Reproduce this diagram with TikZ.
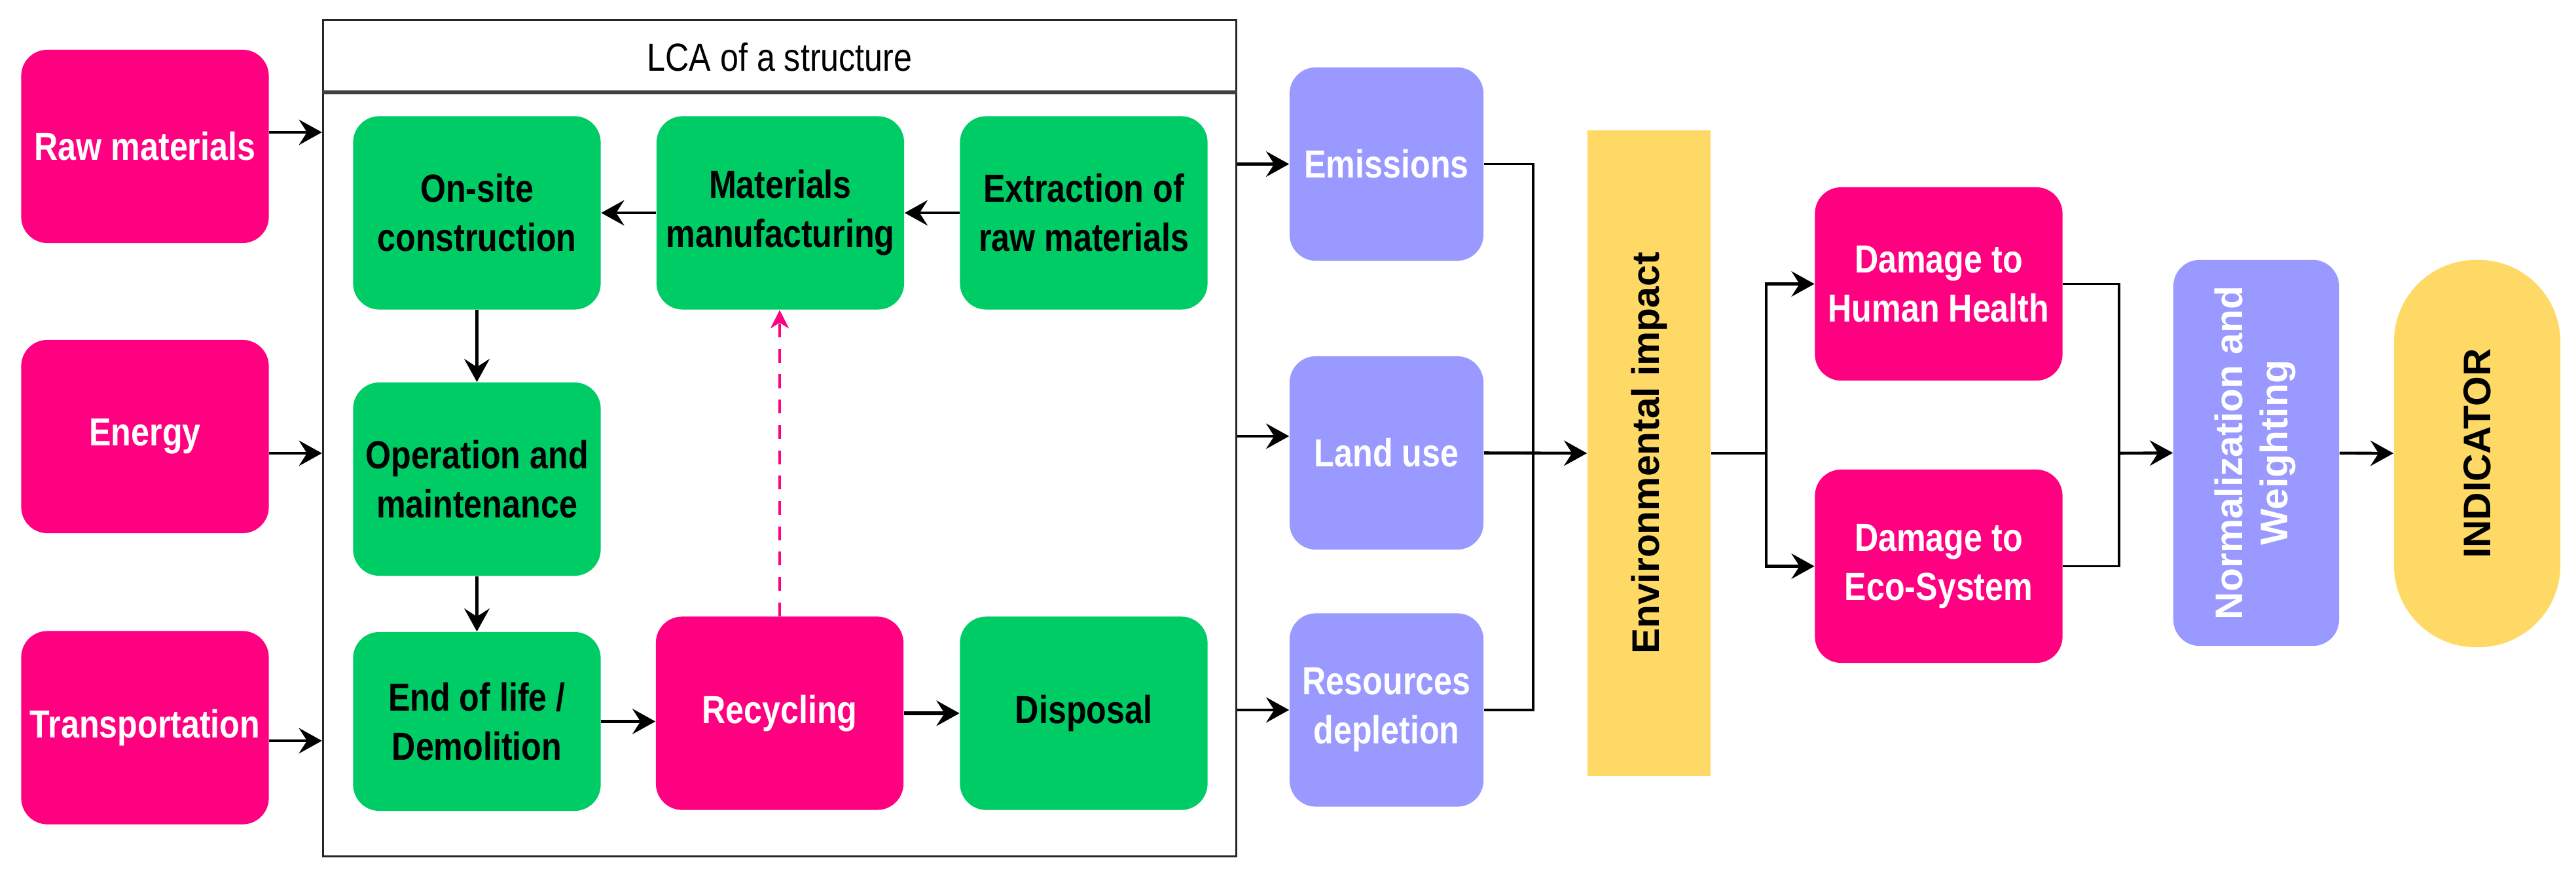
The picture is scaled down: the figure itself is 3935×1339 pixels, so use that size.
\documentclass[tikz,border=0pt]{standalone}
\usepackage{fontspec}
\usepackage{graphicx}
\setmainfont{Liberation Sans}[FakeStretch=0.84]
\newfontfamily\uprightsans{Liberation Sans}
\usetikzlibrary{arrows.meta}

\definecolor{lcapink}{HTML}{FF0080}
\definecolor{lcagreen}{HTML}{00CC66}
\definecolor{lcaviolet}{HTML}{9999FF}
\definecolor{lcayellow}{HTML}{FFD966}

\begin{document}
\begin{tikzpicture}[
    x=0.01cm, y=-0.01cm,
    box/.style={
        rectangle,
        rounded corners=0.4cm,
        minimum width=3.78cm,
        minimum height=2.95cm,
        inner sep=2pt,
        fill=#1,
        align=center,
        font=\fontsize{17}{21.3}\selectfont\bfseries
    },
    input/.style={box=lcapink, text=white},
    stage/.style={box=lcagreen, text=black},
    impact/.style={box=lcaviolet, text=white, minimum width=2.96cm},
    vertical/.style={font=\uprightsans\fontsize{16.7}{19.6}\selectfont\bfseries},
    arrow/.style={-{Stealth[length=10pt, width=11pt, inset=3.5pt]}, line width=1.3pt},
    dasharrow/.style={-{Stealth[length=8pt, width=8pt, inset=2.5pt]}, line width=0.9pt, lcapink, dash pattern=on 6pt off 5pt},
    link/.style={line width=1.1pt}
]
\useasboundingbox (0,0) rectangle (3935,1339);

% inputs
\node[input] (raw) at (221.5,223.5) {Raw materials};
\node[input] (energy) at (221.5,666.5) {Energy};
\node[input] (transp) at (221.5,1111) {Transportation};

% life cycle frame
\node[draw=black!85, line width=1pt, minimum width=13.94cm, minimum height=12.76cm] (lca) at (1191,669) {};
\draw[line width=1.5pt, black!75] ([yshift=-1.12cm]lca.north west) -- ([yshift=-1.12cm]lca.north east);
\node[font=\fontsize{17}{21.3}\selectfont] (lcatitle) at (1191,87) {LCA of a structure};

\node[stage] (onsite) at (728.5,325) {On-site\\construction};
\node[stage] (manuf) at (1192,325) {Materials\\manufacturing};
\node[stage] (extract) at (1655.5,325) {Extraction of\\raw materials};
\node[stage] (oper) at (728.5,731.5) {Operation and\\maintenance};
\node[stage, minimum height=2.73cm] (eol) at (728.5,1101.5) {End of life /\\Demolition};
\node[input] (recyc) at (1191,1089) {Recycling};
\node[stage] (disp) at (1655.5,1089) {Disposal};

% impacts
\node[impact] (emis) at (2118,250.5) {Emissions};
\node[impact] (land) at (2118,691.5) {Land use};
\node[impact] (resour) at (2118,1084) {Resources\\depletion};

\node[fill=lcayellow, minimum width=1.88cm, minimum height=9.86cm, vertical] (env) at (2519,692) {\rotatebox{90}{Environmental impact}};

\node[input] (dhh) at (2961.5,433.5) {Damage to\\Human Health};
\node[input] (deco) at (2961.5,864.5) {Damage to\\Eco-System};

\node[box=lcaviolet, text=white, minimum width=2.53cm, minimum height=5.89cm, vertical] (norm) at (3446.5,691.5)
    {\rotatebox{90}{\begin{tabular}{@{}c@{}}Normalization and\\Weighting\end{tabular}}};
\node[box=lcayellow, rounded corners=1.25cm, minimum width=2.54cm, minimum height=5.91cm, vertical] (indic) at (3784,692.5)
    {\rotatebox{90}{INDICATOR}};

% connectors into the frame
\draw[arrow] ([yshift=0.215cm]raw.east) -- ([yshift=0.215cm]raw.east -| lca.west);
\draw[arrow] ([yshift=-0.255cm]energy.east) -- ([yshift=-0.255cm]energy.east -| lca.west);
\draw[arrow] ([yshift=-0.2cm]transp.east) -- ([yshift=-0.2cm]transp.east -| lca.west);

\draw[arrow] (extract) -- (manuf);
\draw[arrow] (manuf) -- (onsite);
\draw[arrow] (onsite) -- (oper);
\draw[arrow] (oper) -- (eol);
\draw[arrow] (eol.east) -- (eol.east -| recyc.west);
\draw[arrow, line width=1.7pt] (recyc) -- (disp);
\draw[dasharrow] (recyc.north) -- (recyc.north |- manuf.south);

% out of the frame
\draw[arrow] (lca.east |- emis.west) -- (emis.west);
\draw[arrow] ([yshift=0.255cm]land.west -| lca.east) -- ([yshift=0.255cm]land.west);
\draw[arrow] (lca.east |- resour.west) -- (resour.west);

\coordinate (join) at (2342,692);
\draw[link] (emis.east) -| (join);
\draw[link] (resour.east) -| (join);
\draw[arrow] (land.east) -- (env.west);

\coordinate (split) at (2698,692);
\draw[link] (env.east) -- (split);
\draw[arrow] (split) |- (dhh.west);
\draw[arrow] (split) |- (deco.west);

\coordinate (merge) at (3237,692);
\draw[link] (dhh.east) -| (merge);
\draw[link] (deco.east) -| (merge);
\draw[arrow] (merge) -- (norm.west);
\draw[arrow] (norm) -- (indic);

\end{tikzpicture}
\end{document}
